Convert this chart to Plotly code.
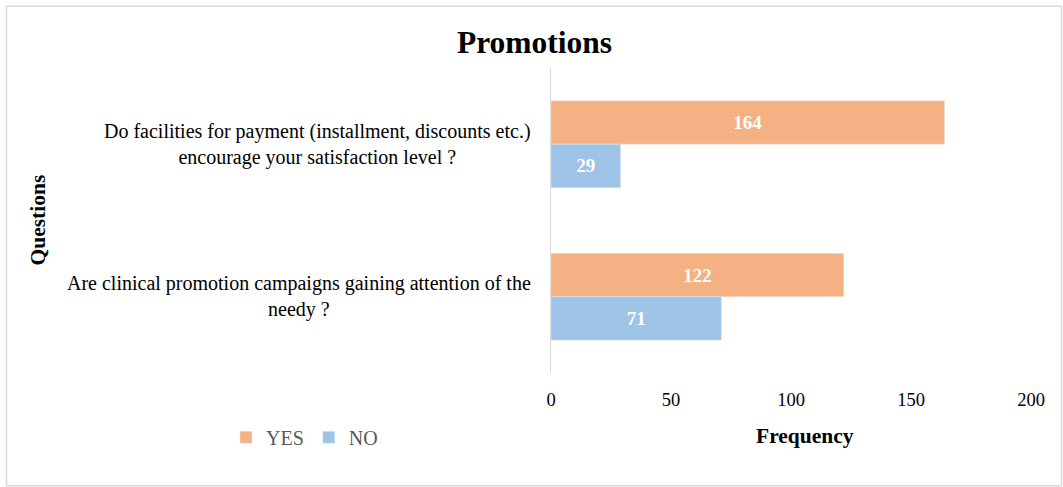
import plotly.graph_objects as go

categories = [
    "Do facilities for payment (installment, discounts etc.)<br>encourage your satisfaction level ?",
    "Are clinical promotion campaigns gaining attention of the<br>needy ?",
]
yes_values = [164, 122]
no_values = [29, 71]
x_ticks = [0, 50, 100, 150, 200]

W, H = 1063, 487
ML, MR, MT, MB = 551, 32, 67.5, 113.5
PW = W - ML - MR
PH = H - MT - MB

def px_x(px):
    return (px - ML) / PW

def px_y(py):
    return (H - MB - py) / PH

FONT = "Liberation Serif, Times New Roman, serif"

fig = go.Figure()
fig.add_trace(go.Bar(
    y=categories, x=yes_values, name="YES", orientation="h",
    marker=dict(color="#F4B183"),
    text=yes_values, textposition="inside", insidetextanchor="middle",
    textangle=0, textfont=dict(family=FONT, size=19, color="white", weight="bold"),
))
fig.add_trace(go.Bar(
    y=categories, x=no_values, name="NO", orientation="h",
    marker=dict(color="#9DC3E6"),
    text=no_values, textposition="inside", insidetextanchor="middle",
    textangle=0, textfont=dict(family=FONT, size=19, color="white", weight="bold"),
))

annotations = []
for c in categories:
    annotations.append(dict(
        x=px_x(533), xref="paper", y=c, yref="y", text=c, showarrow=False,
        xanchor="right", yanchor="middle", align="center",
        font=dict(family=FONT, size=20, color="#000000"),
    ))
annotations.append(dict(
    x=px_x(805), xref="paper", y=px_y(437), yref="paper", text="<b>Frequency</b>",
    showarrow=False, xanchor="center", yanchor="middle",
    font=dict(family=FONT, size=21.5, color="#000000"),
))
annotations.append(dict(
    x=px_x(38.5), xref="paper", y=px_y(220), yref="paper", text="<b>Questions</b>",
    showarrow=False, xanchor="center", yanchor="middle", textangle=-90,
    font=dict(family=FONT, size=21.5, color="#000000"),
))

fig.update_layout(
    width=W, height=H,
    margin=dict(l=ML, r=MR, t=MT, b=MB, pad=0),
    paper_bgcolor="white", plot_bgcolor="white",
    barmode="group", bargap=0.43, bargroupgap=0,
    title=dict(text="<b>Promotions</b>", x=534.5 / W, xanchor="center",
               y=1 - 42 / H, yanchor="middle", yref="container",
               font=dict(family=FONT, size=31.5, color="#000000")),
    xaxis=dict(range=[0, 200], tickvals=x_ticks, showgrid=False, zeroline=False,
               showline=False, ticks="", ticklabelstandoff=13,
               tickfont=dict(family=FONT, size=18.5, color="#000000")),
    yaxis=dict(categoryorder="array", categoryarray=categories, autorange="reversed",
               showticklabels=False, showgrid=False, zeroline=False,
               showline=True, linecolor="#D9D9D9", linewidth=1.2, ticks=""),
    showlegend=True,
    legend=dict(orientation="h", x=px_x(226), xanchor="left", y=px_y(438), yanchor="middle",
                font=dict(family=FONT, size=20, color="#595959"),
                itemwidth=30, traceorder="normal", bgcolor="rgba(0,0,0,0)"),
    annotations=annotations,
    shapes=[dict(type="rect", xref="paper", yref="paper",
                 x0=px_x(6.5), x1=px_x(1061.5), y0=px_y(486.5), y1=px_y(5.5),
                 line=dict(color="#D9D9D9", width=1.5), layer="below")],
)

fig.write_html("out.html")
